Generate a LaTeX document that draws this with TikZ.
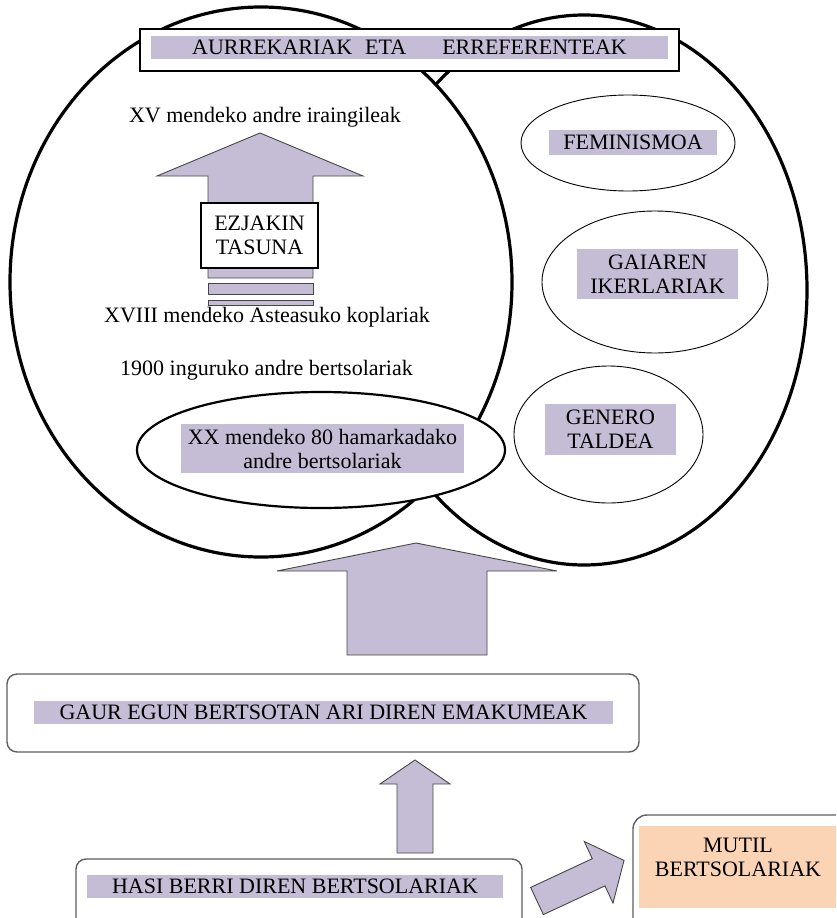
\documentclass[tikz,border=0pt]{standalone}
\usepackage{fontspec}
\setmainfont{Liberation Serif}
\usetikzlibrary{shapes.geometric,positioning}
\definecolor{lav}{RGB}{197,189,214}
\definecolor{peach}{RGB}{250,212,180}
\definecolor{edgegray}{RGB}{70,70,70}
\definecolor{boxgray}{RGB}{95,95,95}
\tikzset{bigoval/.style={ellipse, draw, fill=white, line width=3.2pt, inner sep=0pt},
         oval/.style={ellipse, draw, fill=white, line width=0.9pt, inner sep=0pt},
         hilite/.style={fill=lav, inner sep=0pt, align=center},
         blockarrow/.style={fill=lav, draw=edgegray, line width=0.9pt},
         roundbox/.style={draw=boxgray, fill=white, rounded corners=10pt, line width=1.4pt},
         plain/.style={anchor=base, inner sep=0pt}
}
\begin{document}
\begin{tikzpicture}[x=1pt, y=-1pt, font=\fontsize{22pt}{24pt}\selectfont]
  \clip (0,0) rectangle (836,918);
  % the two ovals
  \node[bigoval, minimum width=446pt, minimum height=550pt] (refs) at (584,290) {};
  \node[bigoval, minimum width=502pt, minimum height=550pt] (past) at (261,282) {};
  \node[draw, fill=white, line width=1.5pt, minimum width=539pt, minimum height=42pt] (title) at (409.5,50) {};
  \node[hilite, minimum width=517pt, minimum height=23pt] at (409.5,47.5)
       {AURREKARIAK\hspace{13pt}ETA\hspace{36pt}ERREFERENTEAK};
  % left oval
  \node[plain] (xv) at (265,122) {XV mendeko andre iraingileak};
  \draw[blockarrow] (260,133) -- (363,176) -- (313,176) -- (313,278) -- (208,278)
       -- (208,176) -- (157,176) -- cycle;
  \foreach \ya/\yb in {283/294, 300/305}
    \draw[blockarrow] (208,\ya) rectangle (313,\yb);
  \node[draw, fill=white, line width=1.2pt, align=center, minimum width=117pt,
        minimum height=65pt] (ezj) at (259.5,235.5) {EZJAKIN\\TASUNA};
  \node[plain] (xviii) at (267,322) {XVIII mendeko Asteasuko koplariak};
  \node[plain] (nineteen) at (266.5,375) {1900 inguruko andre bertsolariak};
  \node[oval, line width=2.2pt, minimum width=368pt, minimum height=116pt] (xx) at (321,450) {};
  \node[hilite, minimum width=283pt, minimum height=49pt] at (322.5,448.5)
       {XX mendeko 80 hamarkadako\\andre bertsolariak};
  % right oval
  \node[oval, minimum width=214pt, minimum height=96pt] (femin) at (628,143) {};
  \node[hilite, minimum width=168pt, minimum height=25pt] at (633,142.5) {FEMINISMOA};
  \node[oval, minimum width=226pt, minimum height=142pt] (ikerl) at (655,282) {};
  \node[hilite, minimum width=161pt, minimum height=50pt] at (657.5,274) {GAIAREN\\IKERLARIAK};
  \node[oval, minimum width=189pt, minimum height=137pt] (genero) at (608.5,434.5) {};
  \node[hilite, minimum width=131pt, minimum height=51pt] at (610.5,429.5) {GENERO\\TALDEA};
  % lower part
  \draw[blockarrow] (416,543) -- (557,571) -- (487,571) -- (487,655) -- (347,655)
       -- (347,571) -- (277,571) -- cycle;
  \node[roundbox, minimum width=632pt, minimum height=78pt] (today) at (323,713) {};
  \node[hilite, minimum width=579pt, minimum height=23pt] at (323.5,712.5)
       {GAUR EGUN BERTSOTAN ARI DIREN EMAKUMEAK};
  \draw[blockarrow] (415,760) -- (450,784) -- (433,784) -- (433,853) -- (397,853)
       -- (397,784) -- (380,784) -- cycle;
  \node[roundbox, minimum width=446pt, minimum height=86pt] (novice) at (299,902) {};
  \node[hilite, minimum width=416pt, minimum height=23pt] at (295,886.5)
       {HASI BERRI DIREN BERTSOLARIAK};
  \begin{scope}[shift={(537,901)}, rotate=25]
    \draw[blockarrow] (0,-15) -- (68,-15) -- (68,-34) -- (96,0) -- (68,34) -- (68,15)
         -- (0,15) -- cycle;
  \end{scope}
  \node[roundbox, rounded corners=14pt, minimum width=217pt, minimum height=120pt] (boys) at (741.5,875) {};
  \fill[peach] (639,826) rectangle (840,908);
  \node[align=center, inner sep=0pt] (boystxt) at (738,857) {MUTIL\\BERTSOLARIAK};
\end{tikzpicture}
\end{document}
